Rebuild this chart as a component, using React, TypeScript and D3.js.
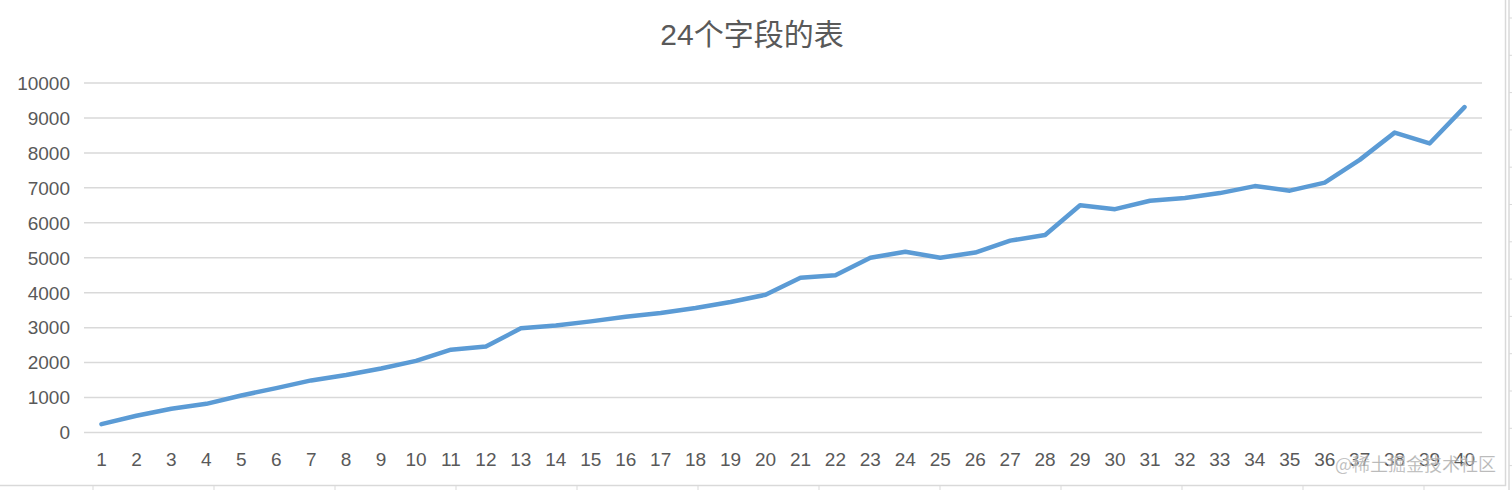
import React from 'react';
import * as d3 from 'd3';

const categories = Array.from({ length: 40 }, (_, i) => String(i + 1));
const fieldCounts = [
  240, 480, 680, 820, 1060, 1270, 1490, 1645, 1830, 2050,
  2370, 2460, 2980, 3060, 3180, 3310, 3420, 3560, 3735, 3940,
  4430, 4500, 5000, 5170, 5000, 5150, 5490, 5650, 6500, 6390,
  6630, 6710, 6850, 7050, 6920, 7150, 7800, 8580, 8270, 9310,
];
const yTicks = [0, 1000, 2000, 3000, 4000, 5000, 6000, 7000, 8000, 9000, 10000];
const title = '24个字段的表';
const watermark = '@稀土掘金技术社区';

const width = 1512;
const height = 490;
const plot = { left: 84, right: 1482, top: 83, bottom: 432.5 };
const font = '"Liberation Sans", "Helvetica Neue", Arial, "Noto Sans CJK SC", sans-serif';
const textColor = '#595959';
const gridColor = '#d9d9d9';

const App: React.FC = () => {
  const x = d3.scaleBand<string>()
    .domain(categories)
    .range([plot.left, plot.right]);

  const y = d3.scaleLinear()
    .domain([0, 10000])
    .range([plot.bottom, plot.top]);

  const line = d3.line<number>()
    .x((_, i) => (x(categories[i]) ?? 0) + x.bandwidth() / 2)
    .y(d => y(d));

  // sheet cells behind the chart frame
  const rowLines = d3.range(18, height, 37.3);
  const colLines = d3.range(93, width, 121);

  return (
    <svg width={width} height={height} style={{ position: 'absolute', left: 0, top: 0, display: 'block' }}>
      <rect x={0} y={0} width={width} height={height} fill="#ffffff" />

      <line x1={1509} x2={1509} y1={0} y2={height} stroke={gridColor} strokeWidth={1.5} />
      {rowLines.map(r => (
        <line key={r} x1={1509} x2={width} y1={r} y2={r} stroke={gridColor} strokeWidth={1} />
      ))}
      {colLines.map(c => (
        <line key={c} x1={c} x2={c} y1={486} y2={height} stroke={gridColor} strokeWidth={1} />
      ))}
      <line x1={0} x2={1506} y1={485.5} y2={485.5} stroke={gridColor} strokeWidth={1.5} />
      <line x1={1505.5} x2={1505.5} y1={0} y2={486} stroke={gridColor} strokeWidth={1.5} />

      <text x={752} y={45} textAnchor="middle" fontFamily={font} fontSize={30} fill={textColor}>
        {title}
      </text>

      {yTicks.map(t => (
        <g key={t}>
          <line x1={plot.left} x2={plot.right} y1={y(t)} y2={y(t)} stroke={gridColor} strokeWidth={1.5} />
          <text x={70} y={y(t)} dy="0.36em" textAnchor="end" fontFamily={font} fontSize={19} fill={textColor}>
            {t}
          </text>
        </g>
      ))}

      {categories.map(c => (
        <text key={c} x={(x(c) ?? 0) + x.bandwidth() / 2} y={466} textAnchor="middle"
          fontFamily={font} fontSize={19} fill={textColor}>
          {c}
        </text>
      ))}

      <path d={line(fieldCounts) ?? ''} fill="none" stroke="#5b9bd5" strokeWidth={4.5}
        strokeLinejoin="round" strokeLinecap="round" />

      <text x={1335} y={471} fontFamily={'"Noto Sans CJK SC", sans-serif'} fontSize={18}
        fill="#8c8c8c" fillOpacity={0.75} stroke="#ffffff" strokeOpacity={0.4} strokeWidth={0.8}>
        {watermark}
      </text>
    </svg>
  );
};

export default App;
